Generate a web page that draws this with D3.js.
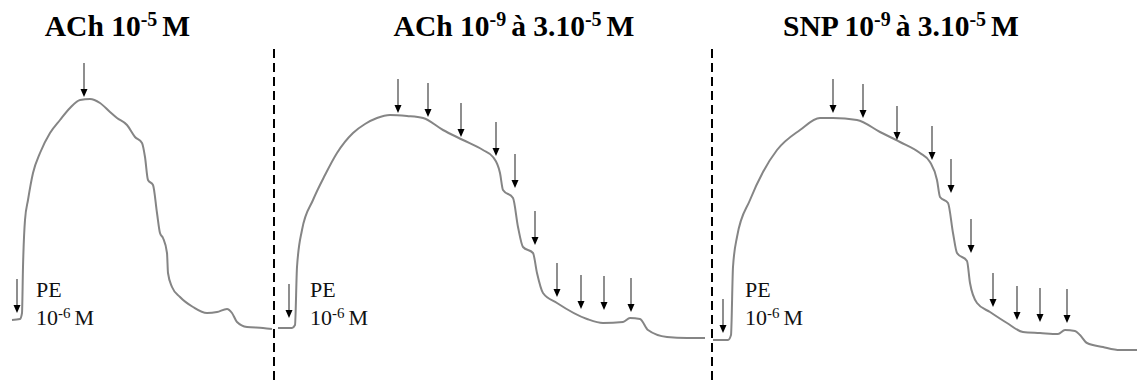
<!DOCTYPE html>
<html><head><meta charset="utf-8">
<script src="https://cdn.jsdelivr.net/npm/d3@7"></script>
<style>html,body{margin:0;padding:0;background:#fff;}svg{display:block;}text{font-family:"Liberation Serif","Times New Roman",serif;}</style>
</head><body>
<svg id="chart" width="1137" height="383"></svg>
<script>
// ---- data (time in arbitrary units, tension in % of max) ----
const trace1 = [[0,12],[4,12.4],[5,14.8],[5.5,33.2],[6.5,52],[8,60],[10.5,70.8],[14,78.8],[19,86.8],[24,92],[29,96.8],[34,100],[39,100.4],[44,98.8],[49,95.2],[52.5,92.8],[57.5,90],[61.5,85.2],[65,82.8],[66.5,77.2],[68,68],[70.5,66],[72.5,54.8],[74,46.8],[75.5,44.8],[77.5,38.8],[78,30.8],[80,25.2],[84,21.2],[90.5,17.2],[97.5,14.8],[102.5,15.2],[107.5,16.4],[110,14.8],[112.5,11.2],[117.5,9.2],[125.5,8.8],[130,8.4]];
const trace2 = [[0,8.8],[7,8.8],[8.5,10],[9.5,33.2],[12,48],[17.5,60],[23.5,70],[29.5,78.8],[37.5,86.8],[43.5,90.4],[49.5,92.8],[56,94],[64.5,93.6],[72.5,92.8],[82.5,88],[92.5,84],[102.5,80],[107.5,77.2],[111,70.8],[112.5,64],[117.5,60.8],[120,49.2],[122.5,41.2],[127.5,38.8],[129.5,30.8],[132.5,22.8],[139.5,18.8],[154.5,12.4],[162.5,10.8],[172.5,11.2],[176,12.8],[181,12.4],[185,8],[194.5,5.2],[204.5,4.8],[213.5,4.8]];
const trace3 = [[0,4],[7.5,4],[9,6],[10,33.2],[12,45.2],[18.5,60],[25,71.2],[32,80],[43.5,88],[53.5,92.8],[60,92.8],[72,92],[83.5,87.2],[93.5,83.2],[103.5,78.8],[108.5,75.2],[112,68],[113.5,61.2],[117.5,58.8],[120,46.8],[122,38.8],[127,35.6],[128.5,26.8],[132,18.8],[138.5,15.2],[147,10.8],[155,7.2],[163.5,6.8],[172.5,6.4],[176,8],[181,7.6],[183.5,6],[187,2.8],[195,1.2],[203.5,0],[213,0]];

// drug additions: time and level of arrow tip
const arrows1T = [2.5, 36];
const arrows1V = [14.8, 101.2];
const arrows2T = [5.5, 60, 75, 91.5, 109, 118.5, 128.5, 139.5, 151.5, 163, 176.5];
const arrows2V = [12.8, 94.8, 93.2, 85.2, 77.6, 64.8, 42, 21.2, 16.4, 16, 15.2];
const arrows3T = [5, 60, 75, 92, 109.5, 119, 129, 140, 152, 163.5, 177];
const arrows3V = [6.8, 94.8, 92.8, 84, 76, 62.8, 38.8, 17.2, 12, 11.2, 10.8];

// titles: [text, isSuperscript]
const title1 = [["ACh 10",0],["-5",1],["M",0]];
const title2 = [["ACh 10",0],["-9",1],["à 3.10",0],["-5",1],["M",0]];
const title3 = [["SNP 10",0],["-9",1],["à 3.10",0],["-5",1],["M",0]];
const peLabel = "PE";
const peConc = [["10",0],["-6",1],["M",0]];

// ---- drawing ----
const svg = d3.select("#chart");
const y = d3.scaleLinear().domain([0, 100]).range([350, 100]);

const panels = [
  {trace: trace1, at: arrows1T, av: arrows1V, title: title1, x: d3.scaleLinear().domain([0,130]).range([12,272]), cx: 115, peX: 36},
  {trace: trace2, at: arrows2T, av: arrows2V, title: title2, x: d3.scaleLinear().domain([0,213.5]).range([278,705]), cx: 509, peX: 310},
  {trace: trace3, at: arrows3T, av: arrows3V, title: title3, x: d3.scaleLinear().domain([0,213]).range([713,1139]), cx: 896, peX: 745}
];

function richText(g, parts, size, supSize, supRise, gap) {
  const t = g.append("text");
  let prevSup = false;
  parts.forEach((p, i) => {
    const ts = t.append("tspan").text(p[0]);
    if (p[1]) {
      ts.attr("font-size", supSize).attr("dy", -supRise);
      prevSup = true;
    } else {
      ts.attr("font-size", size);
      if (prevSup) { ts.attr("dy", supRise).attr("dx", gap); prevSup = false; }
    }
  });
  return t;
}

panels.forEach(p => {
  const line = d3.line().x(d => p.x(d[0])).y(d => y(d[1])).curve(d3.curveMonotoneX);
  svg.append("path").datum(p.trace)
    .attr("d", line).attr("fill", "none")
    .attr("stroke", "#858585").attr("stroke-width", 2).attr("stroke-linejoin", "round");

  p.at.forEach((t, i) => {
    const ax = p.x(t), tip = y(p.av[i]);
    svg.append("line").attr("x1", ax).attr("x2", ax)
      .attr("y1", tip - 34).attr("y2", tip - 7)
      .attr("stroke", "#444").attr("stroke-width", 1.2);
    svg.append("path")
      .attr("d", `M${ax - 3.5},${tip - 8}L${ax + 3.5},${tip - 8}L${ax},${tip}Z`)
      .attr("fill", "#000");
  });

  const tg = svg.append("g").attr("font-weight", "bold").attr("fill", "#000");
  const tt = richText(tg, p.title, 29.5, 20, 10, 5);
  tt.attr("y", 36);
  const w = tt.node().getComputedTextLength();
  tt.attr("x", p.cx - w / 2);

  const lg = svg.append("g").attr("fill", "#111");
  lg.append("text").attr("x", p.peX).attr("y", 297).attr("font-size", 22).text(peLabel);
  richText(lg, peConc, 22, 15, 7, 4).attr("x", p.peX).attr("y", 325);
});

// separators
[274, 712].forEach(xv => {
  svg.append("line").attr("x1", xv).attr("x2", xv).attr("y1", 49).attr("y2", 383)
    .attr("stroke", "#000").attr("stroke-width", 2).attr("stroke-dasharray", "9,5");
});
</script>
</body></html>
